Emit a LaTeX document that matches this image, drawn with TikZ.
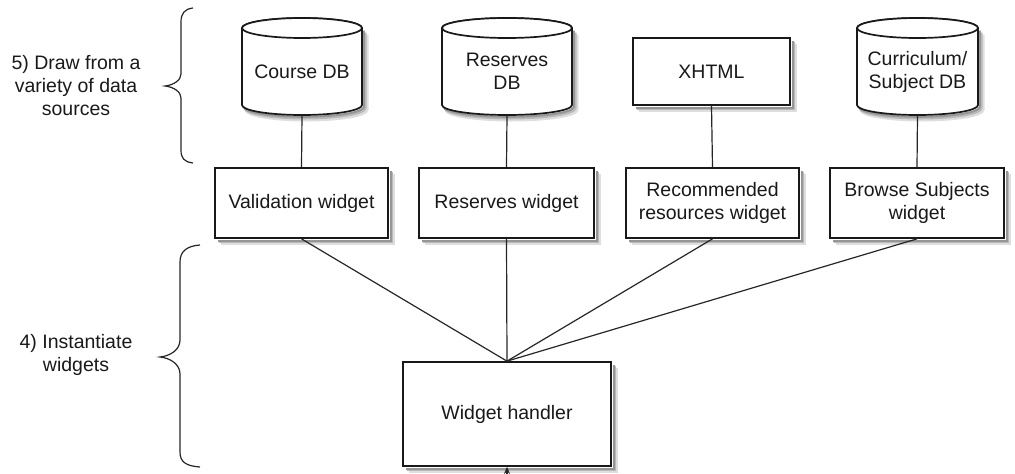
\documentclass[tikz,border=0pt]{standalone}
\usepackage{fontspec}
\setmainfont{Liberation Sans}
\usetikzlibrary{calc,arrows.meta,backgrounds}
\definecolor{shA}{RGB}{222,222,222}
\definecolor{shB}{RGB}{185,185,185}
\definecolor{shC}{RGB}{150,150,150}
\newcommand\dbshadow[4]{% x, y, halfwidth, offset
  (#1+#3+#4,#2-43.5+#4*1.5) -- (#1+#3+#4,#2+33.5+#4)
     arc[start angle=360,end angle=180,x radius=#3pt,y radius=10pt]}
\newcommand\drawdb[5]{%
  \draw[shA,line width=4pt] \dbshadow{#2}{#3}{#4}{4.5};
  \draw[shB,line width=3pt] \dbshadow{#2}{#3}{#4}{3};
  \draw[shC,line width=2pt] \dbshadow{#2}{#3}{#4}{1.8};
  \path[dbline] (#2-#4,#3-43.5) -- (#2-#4,#3+33.5)
     arc[start angle=180,end angle=360,x radius=#4pt,y radius=10pt]
     -- (#2+#4,#3-43.5)
     arc[start angle=0,end angle=180,x radius=#4pt,y radius=10pt] -- cycle;
  \draw[dbline] (#2,#3-43.5) ellipse[x radius=#4pt,y radius=10pt];
  \node (#1) at (#2,#3) {#5};
  \coordinate (#1-b) at (#2,#3+43.5);
}
\newcommand\boxshadow[1]{%
  \draw[shA,line width=4pt] ($(#1.north east)+(4.5,7)$) -- ($(#1.south east)+(4.5,4.5)$) -- ($(#1.south west)+(7,4.5)$);
  \draw[shB,line width=3pt] ($(#1.north east)+(3,5)$) -- ($(#1.south east)+(3,3)$) -- ($(#1.south west)+(5,3)$);
  \draw[shC,line width=2pt] ($(#1.north east)+(1.8,4)$) -- ($(#1.south east)+(1.8,1.8)$) -- ($(#1.south west)+(4,1.8)$);
}
\begin{document}
\begin{tikzpicture}[x=1pt,y=-1pt,
  every node/.style={font=\fontsize{19.5}{23}\selectfont, text=black!90, align=center},
  box/.style={draw=black!90, line width=1.7pt, fill=white, inner sep=0pt},
  conn/.style={draw=black!85, line width=1.2pt},
  brc/.style={draw=black!85, line width=1.2pt},
  dbline/.style={draw=black!90, line width=1.7pt, fill=white}
]
\useasboundingbox (0,0) rectangle (1015,474);

% data sources
\drawdb{cdb}{302}{71.5}{60}{Course DB}
\drawdb{rdb}{507}{71.5}{65}{Reserves\\DB}
\node[box, minimum width=157pt, minimum height=67pt] (xh) at (711.5,71.5) {XHTML};
\drawdb{sdb}{917.5}{71.5}{60.5}{Curriculum/\\Subject DB}

% widgets
\node[box, minimum width=173pt, minimum height=70pt] (val) at (301.5,203) {Validation widget};
\node[box, minimum width=175pt, minimum height=70pt] (res) at (506.5,203) {Reserves widget};
\node[box, minimum width=173pt, minimum height=70pt] (rec) at (712.5,203) {Recommended\\resources widget};
\node[box, minimum width=174pt, minimum height=70pt] (bro) at (917,203) {Browse Subjects\\widget};

% handler
\node[box, minimum width=208pt, minimum height=104pt] (hand) at (507,414) {Widget handler};
\coordinate (in) at (507,474);

\begin{scope}[on background layer]
  \boxshadow{xh}
  \boxshadow{val}
  \boxshadow{res}
  \boxshadow{rec}
  \boxshadow{bro}
  \boxshadow{hand}
\end{scope}

% connectors
\draw[conn] (cdb-b) -- (val.north);
\draw[conn] (rdb-b) -- (res.north);
\draw[conn] (xh.south) -- (rec.north);
\draw[conn] (sdb-b) -- (bro.north);
\draw[conn] (val.south) -- (hand.north);
\draw[conn] (res.south) -- (hand.north);
\draw[conn] (rec.south) -- (hand.north);
\draw[conn] (bro.south) -- (hand.north);
\draw[conn,-{Stealth[length=7pt,width=6pt]}] (in) -- (hand.south);

% braces and labels
\draw[brc] (193,8) .. controls (184,9) and (181,14) .. (181,22) -- (181,74)
  .. controls (181,80) and (174,85) .. (165,86)
  .. controls (174,87) and (181,92) .. (181,98) -- (181,150)
  .. controls (181,158) and (184,162) .. (193,163);
\draw[brc] (200,245) .. controls (186,246) and (180,252) .. (180,262) -- (180,340)
  .. controls (180,350) and (170,356) .. (160,357)
  .. controls (170,358) and (180,364) .. (180,374) -- (180,452)
  .. controls (180,462) and (186,466) .. (200,467);
\node (lab5) at (76,86) {5) Draw from a\\variety of data\\sources};
\node (lab4) at (76,355) {4) Instantiate\\widgets};
\end{tikzpicture}
\end{document}
